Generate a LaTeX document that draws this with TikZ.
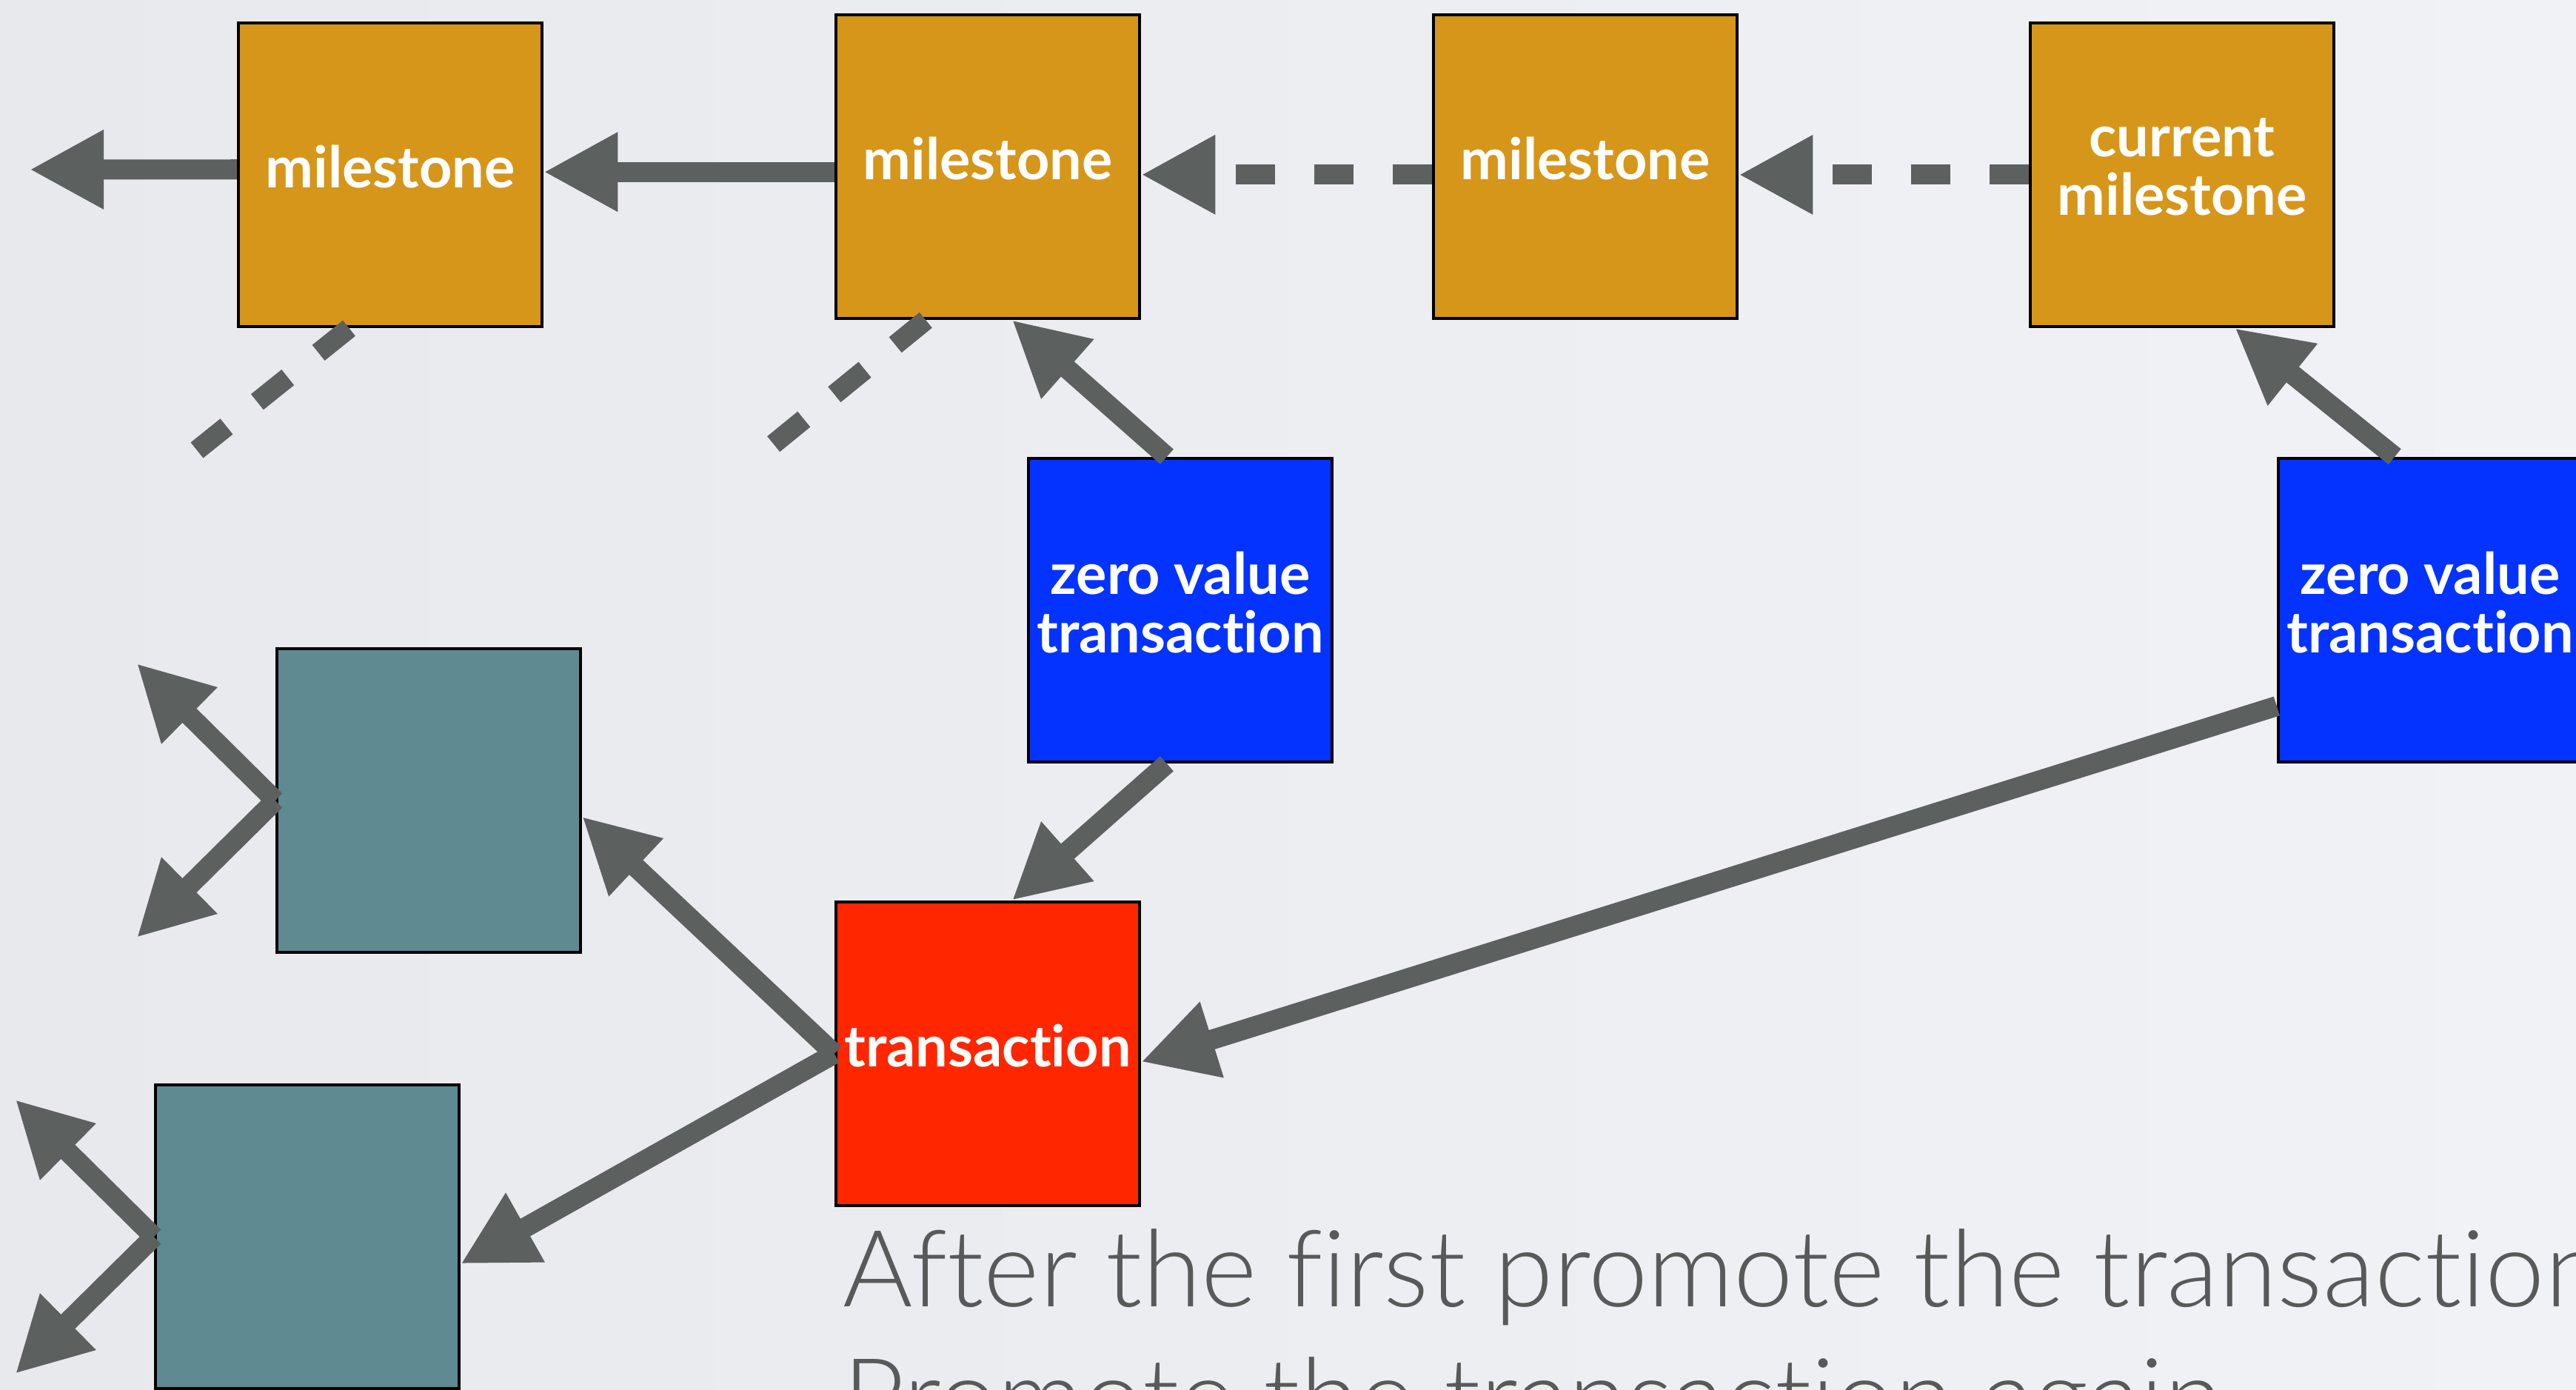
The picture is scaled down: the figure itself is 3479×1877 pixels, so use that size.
\documentclass[tikz,border=0pt]{standalone}
\usepackage{fontspec}
\setmainfont{Lato}[Ligatures=NoCommon, Contextuals=NoAlternate]
\newfontfamily\thinfont{Lato Light}[Ligatures=NoCommon, Contextuals=NoAlternate]
\usetikzlibrary{arrows.meta}
\definecolor{bgleft}{HTML}{E7E9ED}
\definecolor{bgright}{HTML}{F1F2F5}
\definecolor{msorange}{HTML}{D6961A}
\definecolor{zvblue}{HTML}{0433FF}
\definecolor{txred}{HTML}{FF2600}
\definecolor{oldteal}{HTML}{608A92}
\definecolor{linkgray}{HTML}{5C605F}
\definecolor{captgray}{HTML}{595959}
\begin{document}
\begin{tikzpicture}[x=0.01cm, y=-0.01cm,
  box/.style={draw=black, line width=1.2pt, minimum size=4.1cm, inner sep=0pt,
    text depth=0.22cm, text=white, align=center,
    font=\bfseries\fontsize{22}{22.5}\selectfont},
  link/.style={draw=linkgray, line width=0.27cm, -{Triangle[length=1cm, width=1cm]}},
  dashlink/.style={link, dash pattern=on 0.53cm off 0.53cm},
  stub/.style={draw=linkgray, line width=0.27cm, dash pattern=on 0.53cm off 0.53cm},
  caption/.style={anchor=base west, inner sep=0pt, text=captgray,
    font=\thinfont\fontsize{41}{48}\selectfont}]
\useasboundingbox (0,0) rectangle (3479,1877);
\clip (0,0) rectangle (3479,1877);
\shade[left color=bgleft, right color=bgright] (0,0) rectangle (3479,1877);

\node[box, fill=msorange] (m1) at (527,236) {milestone};
\node[box, fill=msorange] (m2) at (1334,225) {milestone};
\node[box, fill=msorange] (m3) at (2141,225) {milestone};
\node[box, fill=msorange] (m4) at (2947,236) {current\\milestone};
\node[box, fill=zvblue] (z1) at (1594,824) {zero value\\transac\kern0pt tion};
\node[box, fill=zvblue] (z2) at (3282,824) {zero value\\transac\kern0pt tion};
\node[box, fill=oldteal] (t1) at (579,1081) {};
\node[box, fill=oldteal] (t2) at (415,1670) {};
\node[box, fill=txred] (tx) at (1334,1423) {transac\kern0pt tion};

\coordinate (far) at (40,229);
\coordinate (s1) at (266,608);
\coordinate (s2) at (1043,601);
\draw[link] (m1.178) -- (far);
\draw[link] (m2.182) -- (m2.182 -| m1.east);
\draw[dashlink] (m3.183) -- (m3.183 -| m2.east);
\draw[dashlink] (m4.west) -- (m4.west -| m3.east);
\draw[stub] (m1.255) -- (s1);
\draw[stub] (m2.248) -- (s2);
\draw[link] (z1.95) -- (m2.279);
\draw[link] (z2.103) -- (m4.289);
\draw[link] (z1.265) -- (tx.81);
\draw[link] (z2.212) -- (tx.357);
\draw[link] (tx.west) -- (t1.354);
\draw[link] (tx.west) -- (t2.350);
\foreach \b in {t1,t2} {
  \path (\b.west) ++(-187,-185) coordinate (\b-up) ++(0,370) coordinate (\b-down);
  \draw[link] (\b.west) -- (\b-up);
  \draw[link] (\b.west) -- (\b-down);
}

\node[caption] (cap1) at (1138,1764) {After the first promote the transac\kern0pt tion};
\node[caption] (cap2) at (1138,1937) {Promote the transac\kern0pt tion again};
\end{tikzpicture}
\end{document}
